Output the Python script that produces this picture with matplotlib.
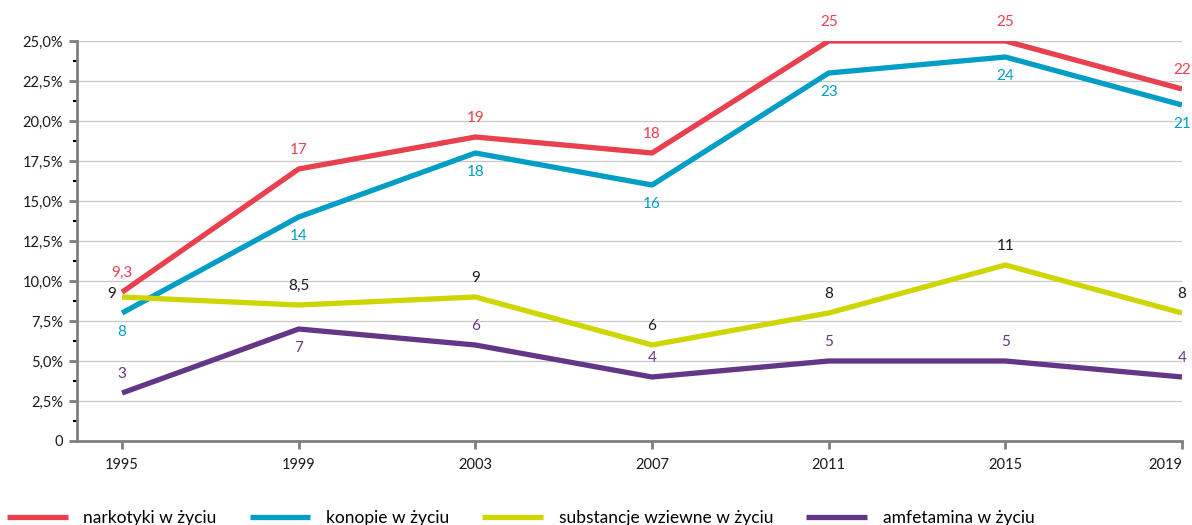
import matplotlib
matplotlib.use('Agg')
import matplotlib.pyplot as plt
import matplotlib.ticker as mtick

plt.rcParams['font.family'] = ['Lato', 'DejaVu Sans']

years = ['1995', '1999', '2003', '2007', '2011', '2015', '2019']
narkotyki = [9.3, 17, 19, 18, 25, 25, 22]
konopie = [8, 14, 18, 16, 23, 24, 21]
wziewne = [9, 8.5, 9, 6, 8, 11, 8]
amfetamina = [3, 7, 6, 4, 5, 5, 4]

series = [
    ('narkotyki w życiu', narkotyki, '#E8404E', '#E8404E', ['up'] * 7),
    ('konopie w życiu', konopie, '#009DC6', '#009DC6', ['down'] * 7),
    ('substancje wziewne w życiu', wziewne, '#CDD600', '#1a1a1a', ['left'] + ['up'] * 6),
    ('amfetamina w życiu', amfetamina, '#633688', '#633688', ['up', 'down', 'up', 'up', 'up', 'up', 'up']),
]


def fmt_val(v):
    s = ('%g' % v).replace('.', ',')
    return s


fig = plt.figure(figsize=(11.92, 5.25), dpi=100)
ax = fig.add_axes([77 / 1192, 84 / 525, (1182 - 77) / 1192, 400 / 525])

x = list(range(len(years)))
for name, vals, col, tcol, pos in series:
    ax.plot(x, vals, color=col, lw=3.8, label=name, solid_capstyle='butt', zorder=3)
    for xi, v, p in zip(x, vals, pos):
        if p == 'up':
            ax.annotate(fmt_val(v), (xi, v), xytext=(0, 9), textcoords='offset points',
                        ha='center', va='bottom', color=tcol, fontsize=11)
        elif p == 'down':
            ax.annotate(fmt_val(v), (xi, v), xytext=(0, -9), textcoords='offset points',
                        ha='center', va='top', color=tcol, fontsize=11)
        else:
            ax.annotate(fmt_val(v), (xi, v), xytext=(-4, 2), textcoords='offset points',
                        ha='right', va='center', color=tcol, fontsize=11)

ax.set_xlim(-0.255, 6)
ax.set_ylim(0, 25)
ax.set_xticks(x)
ax.set_xticklabels(years)
# last label would run off the edge, pull it inside like the original
ax.get_xticklabels()[-1].set_horizontalalignment('right')
ax.set_yticks([i * 2.5 for i in range(11)])
ax.yaxis.set_minor_locator(mtick.MultipleLocator(1.25))


def yfmt(v, _):
    if v == 0:
        return '0'
    return ('%.1f%%' % v).replace('.', ',')


ax.yaxis.set_major_formatter(mtick.FuncFormatter(yfmt))
ax.grid(axis='y', color='#c8c8c8', lw=0.9, zorder=0)
for s in ['top', 'right']:
    ax.spines[s].set_visible(False)
for s in ['left', 'bottom']:
    ax.spines[s].set_color('#7f7f7f')
    ax.spines[s].set_linewidth(2)
ax.tick_params(axis='both', colors='#7f7f7f', labelcolor='#1a1a1a', labelsize=10.5, width=2)
ax.tick_params(axis='y', which='major', length=6, pad=4)
ax.tick_params(axis='y', which='minor', length=3, width=1.5)
ax.tick_params(axis='x', length=6, pad=6)

fig.legend(loc='lower left', bbox_to_anchor=(0.0, -0.015), ncol=4, frameon=False,
           fontsize=12.5, handlelength=3.5, handletextpad=0.9, columnspacing=1.9,
           borderaxespad=0.0)

fig.savefig('out.png', dpi=100)
